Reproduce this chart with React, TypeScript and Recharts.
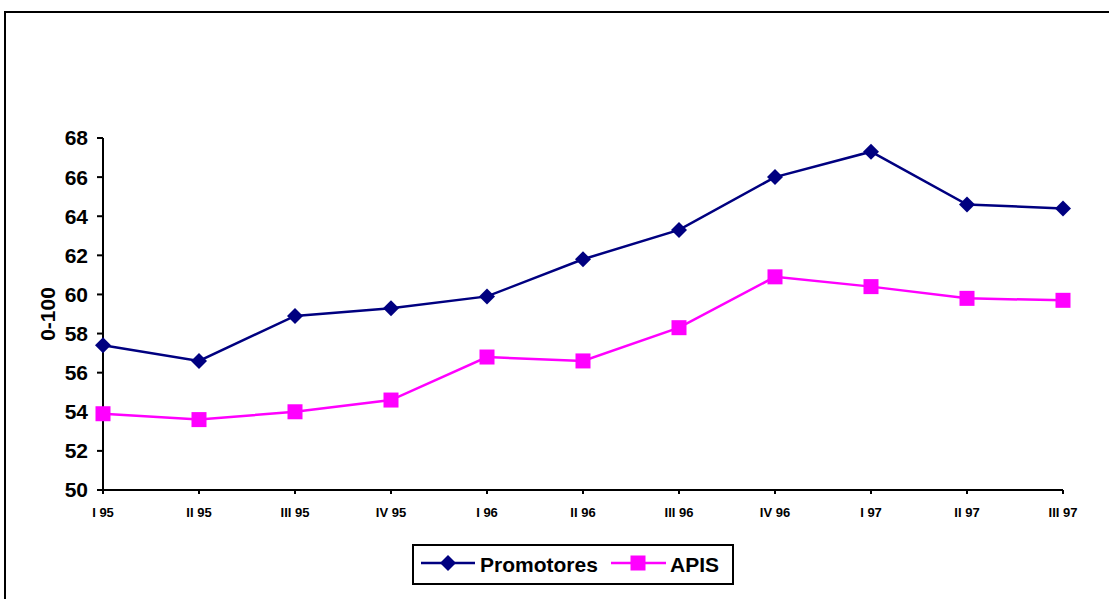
import React from 'react';
import { LineChart, Line, XAxis, YAxis, Label } from 'recharts';

const quarters = ['I 95', 'II 95', 'III 95', 'IV 95', 'I 96', 'II 96', 'III 96', 'IV 96', 'I 97', 'II 97', 'III 97'];
const promotores = [57.4, 56.6, 58.9, 59.3, 59.9, 61.8, 63.3, 66.0, 67.3, 64.6, 64.4];
const apis = [53.9, 53.6, 54.0, 54.6, 56.8, 56.6, 58.3, 60.9, 60.4, 59.8, 59.7];
const yTicks = [50, 52, 54, 56, 58, 60, 62, 64, 66, 68];
const seriesNames = ['Promotores', 'APIS'];

const data = quarters.map((q, i) => ({ q, Promotores: promotores[i], APIS: apis[i] }));

const NAVY = '#000080';
const MAGENTA = '#FF00FF';
const FONT = 'Liberation Sans, Arial, sans-serif';

const Diamond = (props: any) => {
  const { cx, cy, key } = props;
  if (cx == null || cy == null) return null;
  const r = 8;
  return (
    <path
      key={key}
      d={`M${cx},${cy - r} L${cx + r},${cy} L${cx},${cy + r} L${cx - r},${cy} Z`}
      fill={NAVY}
      stroke="none"
    />
  );
};

const Square = (props: any) => {
  const { cx, cy, key } = props;
  if (cx == null || cy == null) return null;
  const h = 7.5;
  return <rect key={key} x={cx - h} y={cy - h} width={h * 2} height={h * 2} fill={MAGENTA} stroke="none" />;
};

const textStyle: React.CSSProperties = {
  position: 'absolute',
  top: 0,
  height: 37,
  lineHeight: '37px',
  fontFamily: FONT,
  fontWeight: 700,
  fontSize: 21,
  color: '#000',
  whiteSpace: 'nowrap',
};

const LegendBox = () => (
  <div
    style={{
      position: 'absolute',
      left: 412,
      top: 544,
      boxSizing: 'border-box',
      width: 322,
      height: 41,
      border: '2px solid #000',
      background: '#fff',
    }}
  >
    <svg width={320} height={37} style={{ position: 'absolute', left: 0, top: 0 }}>
      <line x1={7} y1={17} x2={61} y2={17} stroke={NAVY} strokeWidth={2.5} />
      <path d="M34,9 L42,17 L34,25 L26,17 Z" fill={NAVY} />
      <line x1={197} y1={17} x2={252} y2={17} stroke={MAGENTA} strokeWidth={2.5} />
      <rect x={216.5} y={9.5} width={15} height={15} fill={MAGENTA} />
    </svg>
    <span style={{ ...textStyle, left: 66 }}>{seriesNames[0]}</span>
    <span style={{ ...textStyle, left: 256 }}>{seriesNames[1]}</span>
  </div>
);

export default function App() {
  return (
    <div style={{ position: 'absolute', left: 0, top: 0, width: 1109, height: 599, overflow: 'hidden', background: '#fff' }}>
      <div
        style={{
          position: 'absolute',
          left: 4,
          top: 11,
          width: 1200,
          height: 700,
          border: '2px solid #000',
          boxSizing: 'border-box',
        }}
      />
      <div style={{ position: 'absolute', left: 0, top: 0 }}>
        <LineChart width={1109} height={599} data={data} margin={{ top: 138, right: 46, bottom: 79, left: 0 }}>
          <XAxis
            dataKey="q"
            height={30}
            interval={0}
            padding={{ left: 0, right: 0 }}
            axisLine={{ stroke: '#000', strokeWidth: 2 }}
            tickLine={{ stroke: '#000', strokeWidth: 2 }}
            tickSize={4}
            tickMargin={14}
            tick={{ fill: '#000', fontSize: 13, fontWeight: 700, fontFamily: FONT }}
          />
          <YAxis
            width={103}
            domain={[50, 68]}
            ticks={yTicks}
            interval={0}
            axisLine={{ stroke: '#000', strokeWidth: 2 }}
            tickLine={{ stroke: '#000', strokeWidth: 2 }}
            tickSize={6}
            tickMargin={9}
            tick={{ fill: '#000', fontSize: 21, fontWeight: 700, fontFamily: FONT }}
          >
            <Label
              content={(p: any) => {
                const vb = p.viewBox || { x: 0, y: 138, width: 103, height: 352 };
                const cx = vb.x + 47;
                const cy = vb.y + vb.height / 2;
                return (
                  <text
                    x={cx}
                    y={cy}
                    transform={`rotate(-90 ${cx} ${cy})`}
                    textAnchor="middle"
                    dominantBaseline="central"
                    fontFamily={FONT}
                    fontWeight={700}
                    fontSize={21}
                    fill="#000"
                  >
                    0-100
                  </text>
                );
              }}
            />
          </YAxis>
          <Line
            type="linear"
            dataKey="Promotores"
            stroke={NAVY}
            strokeWidth={2.5}
            dot={Diamond}
            activeDot={false}
            isAnimationActive={false}
          />
          <Line
            type="linear"
            dataKey="APIS"
            stroke={MAGENTA}
            strokeWidth={2.5}
            dot={Square}
            activeDot={false}
            isAnimationActive={false}
          />
        </LineChart>
      </div>
      <LegendBox />
    </div>
  );
}
